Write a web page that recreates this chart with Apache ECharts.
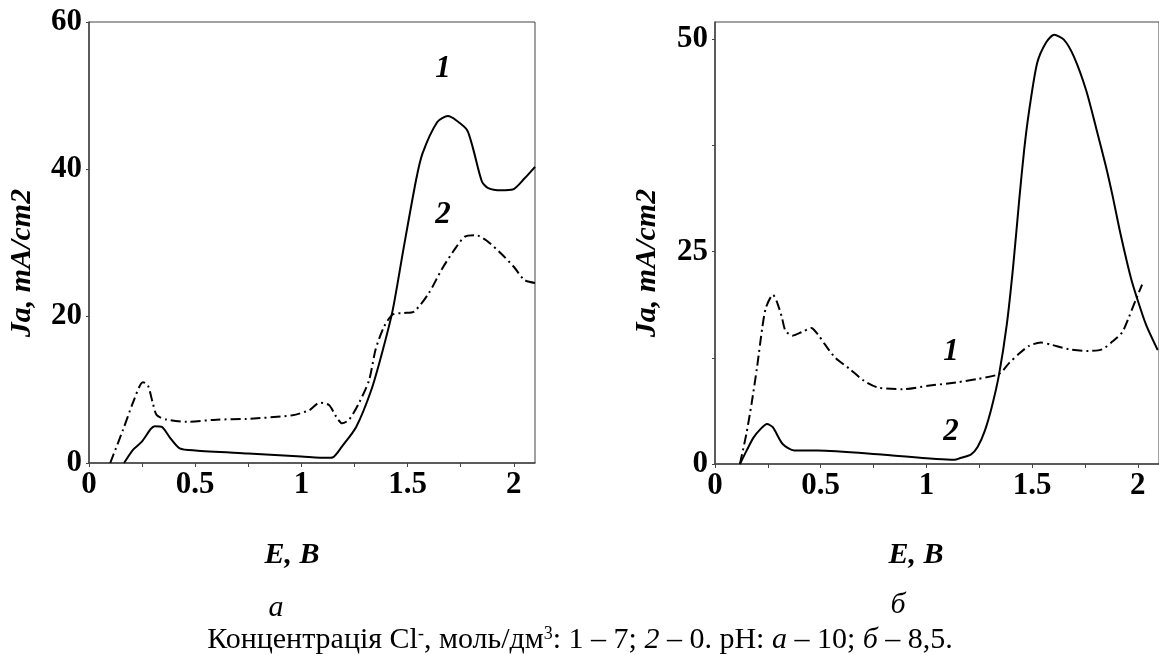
<!DOCTYPE html>
<html>
<head>
<meta charset="utf-8">
<script src="https://cdn.jsdelivr.net/npm/echarts@6/dist/echarts.min.js"></script>
<style>
  html, body { margin: 0; padding: 0; background: #fff; }
  #chart { width: 1159px; height: 655px; }
</style>
</head>
<body>
<div id="chart"></div>
<script>
// Panel a (pH 10): [E, V ; Ja, mA/cm2]
const curveA1 = [[0.165, 0], [0.207, 1.8], [0.249, 2.9], [0.29, 4.6], [0.31, 5.0], [0.343, 4.9], [0.38, 3.5],
  [0.427, 2.0], [0.5, 1.7], [0.75, 1.3], [1.0, 0.9], [1.12, 0.7], [1.15, 0.8], [1.19, 2.2], [1.258, 4.9],
  [1.33, 10.0], [1.38, 15.0], [1.43, 20.8], [1.48, 29.0], [1.54, 38.5], [1.57, 42.1], [1.64, 46.4],
  [1.69, 47.2], [1.73, 46.6], [1.78, 45.3], [1.81, 42.6], [1.85, 38.3], [1.88, 37.4], [1.94, 37.1],
  [1.995, 37.2], [2.05, 38.7], [2.1, 40.3]];
const curveA2 = [[0.1, 0], [0.16, 4.5], [0.207, 8.2], [0.254, 11.0], [0.277, 10.6], [0.3, 8.2], [0.319, 6.5],
  [0.366, 5.9], [0.46, 5.6], [0.6, 5.9], [0.742, 6.0], [0.958, 6.5], [1.038, 7.2], [1.085, 8.2], [1.13, 7.9],
  [1.164, 6.3], [1.192, 5.4], [1.225, 5.9], [1.272, 8.2], [1.319, 11.3], [1.35, 15.5], [1.39, 18.6],
  [1.43, 20.2], [1.48, 20.4], [1.53, 20.6], [1.6, 23.1], [1.66, 26.3], [1.72, 29.0], [1.77, 30.8],
  [1.82, 31.0], [1.87, 30.3], [1.94, 28.5], [2.0, 26.7], [2.05, 24.9], [2.1, 24.5]];

// Panel б (pH 8.5)
const curveB1 = [[0.118, 0], [0.148, 3.5], [0.173, 7.1], [0.199, 11.4], [0.224, 16.1], [0.241, 18.4],
  [0.274, 19.9], [0.291, 19.2], [0.316, 17.3], [0.333, 15.7], [0.367, 15.1], [0.409, 15.5], [0.455, 16.0],
  [0.485, 15.3], [0.519, 14.1], [0.569, 12.5], [0.636, 11.2], [0.704, 9.8], [0.771, 9.0], [0.889, 8.8],
  [1.007, 9.2], [1.141, 9.6], [1.242, 10.0], [1.344, 10.6], [1.392, 11.9], [1.439, 13.0], [1.486, 13.9],
  [1.541, 14.3], [1.595, 14.0], [1.675, 13.5], [1.769, 13.3], [1.832, 13.5], [1.879, 14.4], [1.926, 15.5],
  [1.958, 17.3], [1.99, 19.3], [2.02, 21.1]];
const curveB2 = [[0.118, 0], [0.15, 1.6], [0.182, 3.1], [0.215, 4.1], [0.246, 4.7], [0.274, 4.3], [0.32, 2.35],
  [0.375, 1.6], [0.485, 1.6], [0.8, 1.1], [1.133, 0.5], [1.16, 0.7], [1.21, 1.1], [1.242, 2.0], [1.276, 3.9],
  [1.31, 6.8], [1.344, 10.6], [1.38, 16.4], [1.41, 23.2], [1.439, 31.1], [1.462, 36.9], [1.486, 41.6],
  [1.524, 47.2], [1.566, 49.6], [1.604, 50.5], [1.651, 49.9], [1.698, 47.9], [1.755, 44.0], [1.802, 39.6],
  [1.849, 35.0], [1.88, 31.6], [1.916, 27.3], [1.966, 22.0], [2.0, 19.2], [2.04, 16.3], [2.094, 13.4]];

// Axis ticks and labels
const xTicks = [0, 0.25, 0.5, 0.75, 1, 1.25, 1.5, 1.75, 2];
const xLabels = [0, 0.5, 1, 1.5, 2];
const yTicksA = [0, 20, 40, 60];
const yTicksB = [0, 12.5, 25, 37.5, 50];
const yLabelsB = [0, 25, 50];

const serif = "'Liberation Serif', 'Times New Roman', serif";
const chart = echarts.init(document.getElementById('chart'));

function xAxis(gridIndex) {
  return {
    type: 'value', gridIndex: gridIndex, min: 0, max: 2.1,
    splitLine: { show: false },
    axisLine: { show: true, onZero: false, lineStyle: { color: '#444', width: 1.5 } },
    axisTick: { show: true, length: 4, customValues: xTicks, lineStyle: { color: '#444' } },
    axisLabel: {
      customValues: xLabels, margin: 6, color: '#000',
      fontFamily: serif, fontWeight: 'bold', fontSize: 31
    }
  };
}

function yAxis(gridIndex, max, ticks, labels) {
  return {
    type: 'value', gridIndex: gridIndex, min: 0, max: max,
    splitLine: { show: false },
    axisLine: { show: true, onZero: false, lineStyle: { color: '#444', width: 1.5 } },
    axisTick: { show: true, length: 3, customValues: ticks, lineStyle: { color: '#444' } },
    axisLabel: {
      customValues: labels, margin: 7, color: '#000',
      fontFamily: serif, fontWeight: 'bold', fontSize: 31
    }
  };
}

function curve(data, idx, dashed) {
  return {
    type: 'line', data: data, xAxisIndex: idx, yAxisIndex: idx,
    showSymbol: false, smooth: 0.25, silent: true,
    lineStyle: { color: '#000', width: 2, type: dashed ? [10, 4, 2, 4] : 'solid' }
  };
}

function label(text, x, y, opts) {
  return {
    type: 'text', x: x, y: y, rotation: (opts && opts.rotation) || 0,
    style: Object.assign({
      text: text, fill: '#000', align: 'center', verticalAlign: 'middle',
      font: 'italic bold 30px ' + serif
    }, (opts && opts.style) || {})
  };
}

const option = {
  animation: false,
  backgroundColor: '#fff',
  grid: [
    { left: 89, top: 22, width: 446, height: 441, show: true, borderColor: '#444', borderWidth: 1 },
    { left: 715, top: 22, width: 445, height: 442, show: true, borderColor: '#444', borderWidth: 1 }
  ],
  xAxis: [xAxis(0), xAxis(1)],
  yAxis: [yAxis(0, 60, yTicksA, yTicksA), yAxis(1, 52, yTicksB, yLabelsB)],
  series: [
    curve(curveA1, 0, false),
    curve(curveA2, 0, true),
    curve(curveB1, 1, true),
    curve(curveB2, 1, false)
  ],
  graphic: [
    label('Ja, mA/cm2', 22, 263, { rotation: Math.PI / 2 }),
    label('Ja, mA/cm2', 647, 263, { rotation: Math.PI / 2 }),
    label('E, B', 292, 555),
    label('E, B', 916, 555),
    label('1', 443, 69, { style: { font: 'italic bold 31px ' + serif } }),
    label('2', 443, 215, { style: { font: 'italic bold 31px ' + serif } }),
    label('1', 951, 352, { style: { font: 'italic bold 31px ' + serif } }),
    label('2', 951, 432, { style: { font: 'italic bold 31px ' + serif } }),
    label('а', 276, 608, { style: { font: 'italic 30px ' + serif } }),
    label('б', 898, 605, { style: { font: 'italic 30px ' + serif } }),
    {
      type: 'text', x: 580, y: 640,
      style: {
        text: '{n|Концентрація Cl}{s|-}{n|, моль/дм}{s|3}{n|: 1 – 7; }{i|2}{n| – 0. pH: }{i|а}{n| – 10; }{i|б}{n| – 8,5.}',
        align: 'center', verticalAlign: 'middle',
        rich: {
          n: { fontFamily: serif, fontSize: 30, fill: '#000', color: '#000' },
          i: { fontFamily: serif, fontSize: 30, fontStyle: 'italic', fill: '#000', color: '#000' },
          s: { fontFamily: serif, fontSize: 18, verticalAlign: 'top', fill: '#000', color: '#000' }
        }
      }
    }
  ]
};

chart.setOption(option);
</script>
</body>
</html>
